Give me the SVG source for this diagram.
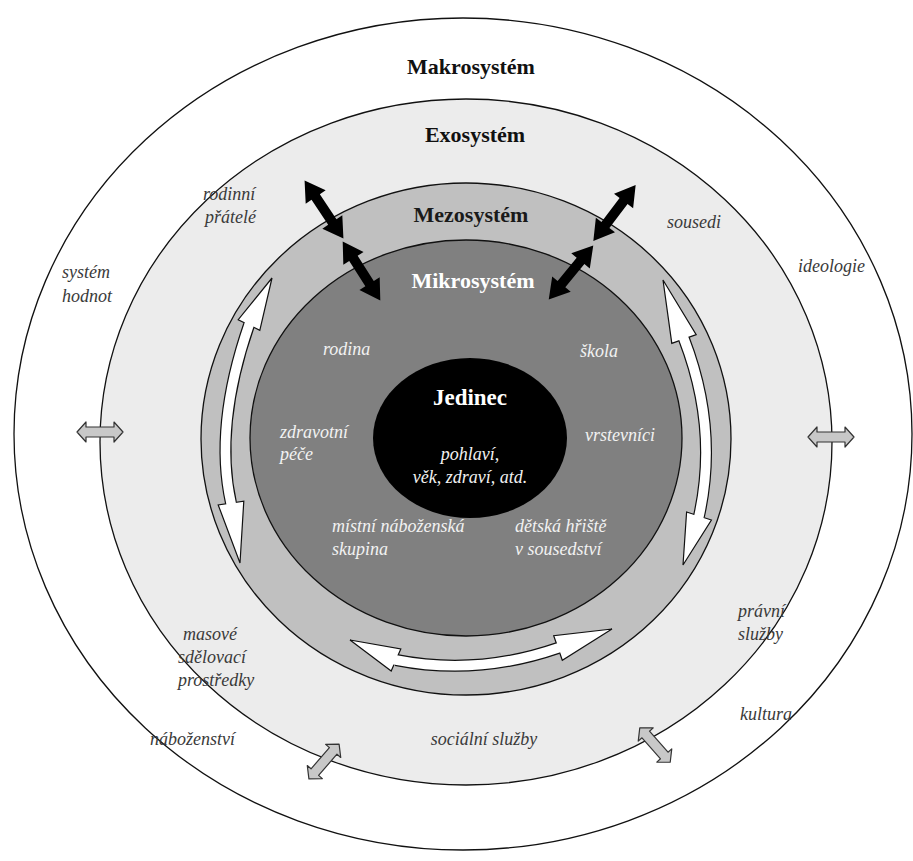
<svg xmlns="http://www.w3.org/2000/svg" width="913" height="861" viewBox="0 0 913 861">
<style>
.ring{stroke:#111;stroke-width:1.3}
.title{font-family:"Liberation Serif",serif;font-weight:bold;font-size:22px;text-anchor:middle}
.it{font-family:"Liberation Serif","DejaVu Serif",serif;font-style:italic;font-size:18px}
.dk{fill:#3a3a3a}
.wt{fill:#f2f2f2}
.blk{fill:#000}
.gra{fill:#c8c8c8;stroke:#333;stroke-width:1.2;stroke-linejoin:round}
.head{fill:#fff;stroke:#111;stroke-width:1.2;stroke-linejoin:miter}
.shaftO{fill:none;stroke:#111;stroke-width:12}
.shaftI{fill:none;stroke:#fff;stroke-width:9.6;stroke-linecap:square}
</style>
<defs>
<path id="bar" d="M-35,0 L-15,-12 L-15,-5 L15,-5 L15,-12 L35,0 L15,12 L15,5 L-15,5 L-15,12 Z"/>
<path id="gar" d="M-23,0 L-14,-10 L-14,-5 L14,-5 L14,-10 L23,0 L14,10 L14,5 L-14,5 L-14,10 Z"/>
</defs>
<rect width="913" height="861" fill="#fff"/>
<g id="makrosystem">
<ellipse class="ring" cx="463" cy="434" rx="449" ry="416" fill="#fff"/>
<text class="title" x="471" y="74" fill="#111">Makrosystém</text>
<text class="it dk" x="62" y="278">systém</text>
<text class="it dk" x="62" y="302">hodnot</text>
<text class="it dk" x="798" y="272">ideologie</text>
<text class="it dk" x="740" y="720">kultura</text>
<text class="it dk" x="150" y="745">náboženství</text>
</g>
<g id="exosystem">
<ellipse class="ring" cx="466" cy="442" rx="366" ry="343" fill="#ececec"/>
<text class="title" x="475" y="142" fill="#111">Exosystém</text>
<text class="it dk" x="203" y="200">rodinní</text>
<text class="it dk" x="205" y="223">přátelé</text>
<text class="it dk" x="667" y="228">sousedi</text>
<text class="it dk" x="738" y="617">právní</text>
<text class="it dk" x="738" y="640">služby</text>
<text class="it dk" x="183" y="640">masové</text>
<text class="it dk" x="178" y="663">sdělovací</text>
<text class="it dk" x="178" y="686">prostředky</text>
<text class="it dk" x="484" y="745" text-anchor="middle">sociální služby</text>
</g>
<g id="mezosystem">
<ellipse class="ring" cx="466" cy="439" rx="265" ry="256" fill="#c0c0c0"/>
<text class="title" x="471" y="222" fill="#1a1a1a">Mezosystém</text>
</g>
<g id="mikrosystem">
<ellipse class="ring" cx="466" cy="438" rx="216" ry="198" fill="#808080"/>
<text class="title" x="473" y="288" fill="#fff">Mikrosystém</text>
<text class="it wt" x="323" y="355">rodina</text>
<text class="it wt" x="580" y="357">škola</text>
<text class="it wt" x="280" y="438">zdravotní</text>
<text class="it wt" x="280" y="460">péče</text>
<text class="it wt" x="585" y="441">vrstevníci</text>
<text class="it wt" x="332" y="532">místní náboženská</text>
<text class="it wt" x="332" y="555">skupina</text>
<text class="it wt" x="515" y="532">dětská hřiště</text>
<text class="it wt" x="515" y="555">v sousedství</text>
</g>
<g id="jedinec">
<ellipse cx="470" cy="438" rx="97" ry="80" fill="#000"/>
<text class="title" x="470" y="405" fill="#fff" style="font-size:23px">Jedinec</text>
<text class="it wt" x="470" y="460" text-anchor="middle">pohlaví,</text>
<text class="it wt" x="470" y="483" text-anchor="middle">věk, zdraví, atd.</text>
</g>
<g id="connectors">
<use href="#bar" class="blk" transform="translate(324,209.5) rotate(56.3)"/>
<use href="#bar" class="blk" transform="translate(361.5,271) rotate(57.5)"/>
<use href="#bar" class="blk" transform="translate(614.5,213) rotate(127.2)"/>
<use href="#bar" class="blk" transform="translate(571,272.5) rotate(129.5)"/>
<use href="#gar" class="gra" transform="translate(100,432)"/>
<use href="#gar" class="gra" transform="translate(831,437)"/>
<use href="#gar" class="gra" transform="translate(324,761.5) rotate(-49)"/>
<use href="#gar" class="gra" transform="translate(655,745) rotate(48.6)"/>
<g id="arrow-left">
<path class="shaftO" d="M249,325 Q214,426.5 231,503"/>
<polygon class="head" points="272,278 259.8,330.3 238.2,319.7"/>
<polygon class="head" points="240,563 218.2,504.9 243.8,501.1"/>
<path class="shaftI" d="M249,325 Q214,426.5 231,503"/>
</g>
<g id="arrow-right">
<path class="shaftO" d="M684,339 Q718.5,428.5 699,516"/>
<polygon class="head" points="663,280 696.2,334.6 671.8,343.4"/>
<polygon class="head" points="683,565 686.6,512 711.4,520"/>
<path class="shaftI" d="M684,339 Q718.5,428.5 699,516"/>
</g>
<g id="arrow-bottom">
<path class="shaftO" d="M396,660 Q477,676 558,648"/>
<polygon class="head" points="350,640 400.8,649 391.2,671"/>
<polygon class="head" points="612,629 562.3,660.3 553.7,635.7"/>
<path class="shaftI" d="M396,660 Q477,676 558,648"/>
</g>
</g>
</svg>
